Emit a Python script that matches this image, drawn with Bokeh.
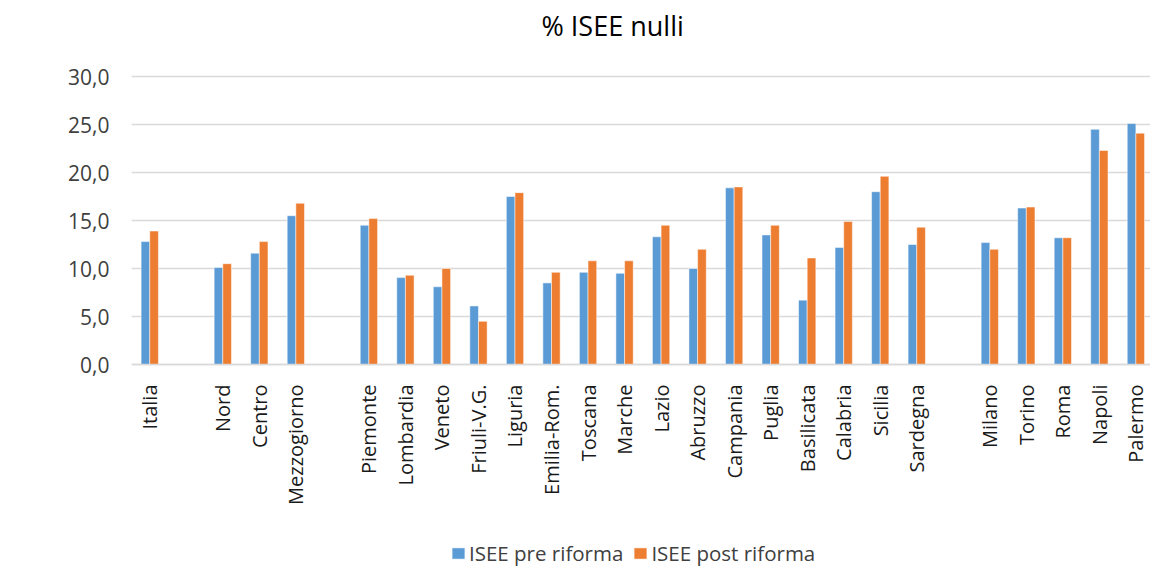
import math
from bokeh.plotting import figure
from bokeh.models import ColumnDataSource, Range1d, FixedTicker, Legend, LegendItem, Label
from bokeh.embed import file_html
from bokeh.resources import INLINE

# ---- data ----
categories = ["Italia", "Nord", "Centro", "Mezzogiorno",
              "Piemonte", "Lombardia", "Veneto", "Friuli-V.G.", "Liguria",
              "Emilia-Rom.", "Toscana", "Marche", "Lazio", "Abruzzo",
              "Campania", "Puglia", "Basilicata", "Calabria", "Sicilia", "Sardegna",
              "Milano", "Torino", "Roma", "Napoli", "Palermo"]
groups = [0, 1, 1, 1,
          2, 2, 2, 2, 2, 2, 2, 2, 2, 2, 2, 2, 2, 2, 2, 2,
          3, 3, 3, 3, 3]
pre = [12.8, 10.1, 11.6, 15.5,
       14.5, 9.05, 8.1, 6.1, 17.5, 8.5, 9.6, 9.5, 13.3, 10.0,
       18.4, 13.5, 6.7, 12.2, 18.0, 12.5,
       12.7, 16.3, 13.2, 24.5, 25.1]
post = [13.9, 10.5, 12.8, 16.8,
        15.2, 9.3, 10.0, 4.5, 17.9, 9.6, 10.8, 10.8, 14.5, 12.0,
        18.5, 14.5, 11.1, 14.9, 19.6, 14.3,
        12.0, 16.4, 13.2, 22.3, 24.1]
series_names = ["ISEE pre riforma", "ISEE post riforma"]
series_colors = ["#5B9BD5", "#ED7D31"]
y_ticks = [0, 5, 10, 15, 20, 25, 30]
title_text = "% ISEE nulli"

# ---- layout (pixels) ----
W, H = 1150, 567
LEFT = 131
PLOT_TOP, PLOT_BOTTOM = 76, 364          # pixel rows of y=30 and y=0
px_per_unit = (PLOT_BOTTOM - PLOT_TOP) / (y_ticks[-1] - y_ticks[0])
y_hi = y_ticks[-1] + PLOT_TOP / px_per_unit
y_lo = y_ticks[0] - (H - PLOT_BOTTOM) / px_per_unit

# ---- derived positions (order + one spacer slot between groups) ----
xpos = [i + g for i, g in enumerate(groups)]
bw = 0.237
src = ColumnDataSource(dict(x=xpos, pre=pre, post=post,
                            xpre=[x - bw / 2 for x in xpos],
                            xpost=[x + bw / 2 for x in xpos]))

FONT = "Open Sans"

p = figure(frame_width=W - LEFT, frame_height=H, output_backend="svg", toolbar_location=None,
           x_range=Range1d(-0.5, 27.4), y_range=Range1d(y_lo, y_hi),
           min_border_left=LEFT, min_border_right=0, min_border_top=0,
           min_border_bottom=0)
p.outline_line_color = None
p.background_fill_color = "white"
p.border_fill_color = "white"

r1 = p.vbar(x="xpre", top="pre", bottom=0, width=bw, source=src, fill_color=series_colors[0],
            line_color="white", line_alpha=0.5, line_width=1)
r2 = p.vbar(x="xpost", top="post", bottom=0, width=bw, source=src, fill_color=series_colors[1],
            line_color="white", line_alpha=0.5, line_width=1)

# title
title = Label(x=410, y=H - 25, x_units="screen", y_units="screen", text=title_text,
              text_font=FONT, text_font_size="27px", text_color="#000000",
              text_baseline="alphabetic", text_align="left")
p.add_layout(title)

# y axis
p.yaxis.ticker = FixedTicker(ticks=y_ticks)
p.yaxis.major_label_overrides = {t: f"{t:.1f}".replace(".", ",") for t in y_ticks}
p.yaxis.axis_line_color = None
p.yaxis.major_tick_line_color = None
p.yaxis.minor_tick_line_color = None
p.yaxis.major_label_text_font = FONT
p.yaxis.major_label_text_font_size = "21px"
p.yaxis.major_label_text_color = "#404040"
p.yaxis.major_label_standoff = 16
p.ygrid.grid_line_color = "#D9D9D9"
p.ygrid.grid_line_width = 1.5

# x axis, drawn at y = 0
p.xaxis.fixed_location = 0
p.xaxis.ticker = FixedTicker(ticks=xpos)
p.xaxis.major_label_overrides = {x: c for x, c in zip(xpos, categories)}
p.xaxis.major_label_orientation = math.pi / 2
p.xaxis.axis_line_color = "#D9D9D9"
p.xaxis.axis_line_width = 1.5
p.xaxis.major_tick_line_color = None
p.xaxis.minor_tick_line_color = None
p.xaxis.major_label_text_font = FONT
p.xaxis.major_label_text_font_size = "20px"
p.xaxis.major_label_text_color = "#1a1a1a"
p.xaxis.major_label_standoff = 14

p.xgrid.grid_line_color = None

legend = Legend(items=[LegendItem(label=series_names[0], renderers=[r1]),
                       LegendItem(label=series_names[1], renderers=[r2])],
                orientation="horizontal", location=(319, 0),
                label_text_font=FONT, label_text_font_size="20.5px",
                label_text_color="#404040", glyph_width=16, glyph_height=14,
                label_standoff=3, spacing=9, border_line_color=None,
                background_fill_alpha=0, margin=0, padding=0)
p.add_layout(legend, "center")

open("out.html", "w").write(file_html(p, INLINE))
